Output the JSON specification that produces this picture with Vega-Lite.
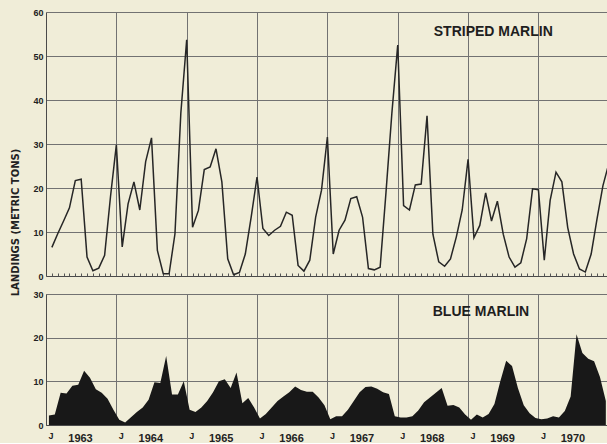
{
  "$schema": "https://vega.github.io/schema/vega-lite/v6.json",
  "background": "#f0edd8",
  "padding": {"left": 10, "top": 8, "right": 0, "bottom": 0},
  "bounds": "flush",
  "spacing": 18,
  "config": {
    "view": {"stroke": null},
    "font": "Liberation Sans",
    "axis": {
      "domainColor": "#4a4a4a",
      "gridColor": "#727272",
      "gridWidth": 1,
      "labelColor": "#222222",
      "labelFont": "Liberation Sans",
      "labelFontWeight": "bold",
      "titleColor": "#222222"
    }
  },
  "datasets": {
    "striped": [
      {"month": 1, "tons": 6.5}, {"month": 2, "tons": 9.6}, {"month": 3, "tons": 12.5}, {"month": 4, "tons": 15.5},
      {"month": 5, "tons": 21.7}, {"month": 6, "tons": 22}, {"month": 7, "tons": 4.3}, {"month": 8, "tons": 1.2},
      {"month": 9, "tons": 1.8}, {"month": 10, "tons": 4.7}, {"month": 11, "tons": 18}, {"month": 12, "tons": 29.8},
      {"month": 13, "tons": 6.6}, {"month": 14, "tons": 16.4}, {"month": 15, "tons": 21.4}, {"month": 16, "tons": 15},
      {"month": 17, "tons": 26}, {"month": 18, "tons": 31.4}, {"month": 19, "tons": 5.8}, {"month": 20, "tons": 0.5},
      {"month": 21, "tons": 0.5}, {"month": 22, "tons": 9.6}, {"month": 23, "tons": 37}, {"month": 24, "tons": 53.7},
      {"month": 25, "tons": 11.1}, {"month": 26, "tons": 14.9}, {"month": 27, "tons": 24.2}, {"month": 28, "tons": 24.8},
      {"month": 29, "tons": 28.9}, {"month": 30, "tons": 21.4}, {"month": 31, "tons": 3.9}, {"month": 32, "tons": 0.3},
      {"month": 33, "tons": 0.8}, {"month": 34, "tons": 5}, {"month": 35, "tons": 13.4}, {"month": 36, "tons": 22.5},
      {"month": 37, "tons": 10.8}, {"month": 38, "tons": 9.2}, {"month": 39, "tons": 10.4}, {"month": 40, "tons": 11.3},
      {"month": 41, "tons": 14.5}, {"month": 42, "tons": 13.8}, {"month": 43, "tons": 2.4}, {"month": 44, "tons": 1.1},
      {"month": 45, "tons": 3.6}, {"month": 46, "tons": 13.4}, {"month": 47, "tons": 19.5}, {"month": 48, "tons": 31.6},
      {"month": 49, "tons": 5}, {"month": 50, "tons": 10.4}, {"month": 51, "tons": 12.7}, {"month": 52, "tons": 17.6},
      {"month": 53, "tons": 18}, {"month": 54, "tons": 13.4}, {"month": 55, "tons": 1.7}, {"month": 56, "tons": 1.4},
      {"month": 57, "tons": 2}, {"month": 58, "tons": 19}, {"month": 59, "tons": 37}, {"month": 60, "tons": 52.5},
      {"month": 61, "tons": 16}, {"month": 62, "tons": 15}, {"month": 63, "tons": 20.7}, {"month": 64, "tons": 20.9},
      {"month": 65, "tons": 36.4}, {"month": 66, "tons": 9.5}, {"month": 67, "tons": 3.2}, {"month": 68, "tons": 2.2},
      {"month": 69, "tons": 3.9}, {"month": 70, "tons": 8.9}, {"month": 71, "tons": 15}, {"month": 72, "tons": 26.5},
      {"month": 73, "tons": 8.7}, {"month": 74, "tons": 11.5}, {"month": 75, "tons": 18.9}, {"month": 76, "tons": 12.5},
      {"month": 77, "tons": 17}, {"month": 78, "tons": 9.5}, {"month": 79, "tons": 4.3}, {"month": 80, "tons": 2},
      {"month": 81, "tons": 3}, {"month": 82, "tons": 8.5}, {"month": 83, "tons": 19.8}, {"month": 84, "tons": 19.6},
      {"month": 85, "tons": 3.6}, {"month": 86, "tons": 17.2}, {"month": 87, "tons": 23.6}, {"month": 88, "tons": 21.4},
      {"month": 89, "tons": 11}, {"month": 90, "tons": 5}, {"month": 91, "tons": 1.6}, {"month": 92, "tons": 0.9},
      {"month": 93, "tons": 5}, {"month": 94, "tons": 13}, {"month": 95, "tons": 20.5}, {"month": 96, "tons": 25.5}
    ],
    "blue": [
      {"month": 0.5, "tons": 2.2}, {"month": 1.5, "tons": 2.4}, {"month": 2.5, "tons": 7.4}, {"month": 3.5, "tons": 7.2},
      {"month": 4.5, "tons": 9}, {"month": 5.5, "tons": 9.2}, {"month": 6.5, "tons": 12.4}, {"month": 7.5, "tons": 10.8},
      {"month": 8.5, "tons": 8.2}, {"month": 9.5, "tons": 7.4}, {"month": 10.5, "tons": 6}, {"month": 11.5, "tons": 3.5},
      {"month": 12.5, "tons": 1.2}, {"month": 13.5, "tons": 0.6}, {"month": 14.5, "tons": 1.8}, {"month": 15.5, "tons": 3},
      {"month": 16.5, "tons": 4}, {"month": 17.5, "tons": 5.8}, {"month": 18.5, "tons": 9.8}, {"month": 19.5, "tons": 9.6},
      {"month": 20.5, "tons": 15.8}, {"month": 21.5, "tons": 7}, {"month": 22.5, "tons": 7}, {"month": 23.5, "tons": 10},
      {"month": 24.5, "tons": 3.5}, {"month": 25.5, "tons": 3}, {"month": 26.5, "tons": 4}, {"month": 27.5, "tons": 5.5},
      {"month": 28.5, "tons": 7.5}, {"month": 29.5, "tons": 10}, {"month": 30.5, "tons": 10.5}, {"month": 31.5, "tons": 8.5},
      {"month": 32.5, "tons": 12}, {"month": 33.5, "tons": 5}, {"month": 34.5, "tons": 6.2}, {"month": 35.5, "tons": 4},
      {"month": 36.5, "tons": 1.5}, {"month": 37.5, "tons": 2.5}, {"month": 38.5, "tons": 4}, {"month": 39.5, "tons": 5.5},
      {"month": 40.5, "tons": 6.5}, {"month": 41.5, "tons": 7.5}, {"month": 42.5, "tons": 8.8}, {"month": 43.5, "tons": 8},
      {"month": 44.5, "tons": 7.6}, {"month": 45.5, "tons": 7.6}, {"month": 46.5, "tons": 6.3}, {"month": 47.5, "tons": 4.5},
      {"month": 48.5, "tons": 1.3}, {"month": 49.5, "tons": 2}, {"month": 50.5, "tons": 2}, {"month": 51.5, "tons": 3.5},
      {"month": 52.5, "tons": 5.5}, {"month": 53.5, "tons": 7.5}, {"month": 54.5, "tons": 8.7}, {"month": 55.5, "tons": 8.8},
      {"month": 56.5, "tons": 8.3}, {"month": 57.5, "tons": 7.5}, {"month": 58.5, "tons": 7.1}, {"month": 59.5, "tons": 2},
      {"month": 60.5, "tons": 1.7}, {"month": 61.5, "tons": 1.7}, {"month": 62.5, "tons": 2}, {"month": 63.5, "tons": 3.3},
      {"month": 64.5, "tons": 5.2}, {"month": 65.5, "tons": 6.3}, {"month": 66.5, "tons": 7.4}, {"month": 67.5, "tons": 8.5},
      {"month": 68.5, "tons": 4.4}, {"month": 69.5, "tons": 4.6}, {"month": 70.5, "tons": 4}, {"month": 71.5, "tons": 2.4},
      {"month": 72.5, "tons": 1.2}, {"month": 73.5, "tons": 2.4}, {"month": 74.5, "tons": 1.7}, {"month": 75.5, "tons": 2.5},
      {"month": 76.5, "tons": 4.8}, {"month": 77.5, "tons": 10}, {"month": 78.5, "tons": 14.7}, {"month": 79.5, "tons": 13.5},
      {"month": 80.5, "tons": 8.5}, {"month": 81.5, "tons": 4.5}, {"month": 82.5, "tons": 2.7}, {"month": 83.5, "tons": 1.6},
      {"month": 84.5, "tons": 1.3}, {"month": 85.5, "tons": 1.5}, {"month": 86.5, "tons": 2}, {"month": 87.5, "tons": 1.7},
      {"month": 88.5, "tons": 3.2}, {"month": 89.5, "tons": 6.5}, {"month": 90.5, "tons": 20.8}, {"month": 91.5, "tons": 16.5},
      {"month": 92.5, "tons": 15.2}, {"month": 93.5, "tons": 14.6}, {"month": 94.5, "tons": 11}, {"month": 95.5, "tons": 5.5}
    ]
  },
  "vconcat": [
    {
      "width": 561,
      "height": 264,
      "data": {"name": "striped"},
      "resolve": {"axis": {"x": "independent"}},
      "layer": [
        {
          "mark": {"type": "line", "color": "#262626", "strokeWidth": 1.5, "clip": true},
          "encoding": {
            "x": {
              "field": "month",
              "type": "quantitative",
              "scale": {"domain": [0, 95.7], "nice": false, "zero": false},
              "axis": {
                "orient": "bottom",
                "values": [12, 24, 36, 48, 60, 72, 84],
                "labels": false,
                "title": null,
                "ticks": false,
                "domain": true,
                "grid": true
              }
            },
            "y": {
              "field": "tons",
              "type": "quantitative",
              "scale": {"domain": [0, 60], "nice": false},
              "axis": {
                "values": [0, 10, 20, 30, 40, 50, 60],
                "title": "LANDINGS (METRIC TONS)",
                "titleX": -31,
                "titleY": 210,
                "titleAngle": -90,
                "titleAlign": "center",
                "titleBaseline": "middle",
                "titleFont": "DejaVu Sans",
                "titleFontSize": 10,
                "titleFontWeight": "bold",
                "ticks": false,
                "labelPadding": 3,
                "labelFontSize": 9,
                "grid": true
              }
            }
          }
        },
        {
          "data": {"values": [{}]},
          "mark": {"type": "text", "text": "STRIPED MARLIN", "font": "Liberation Sans", "fontWeight": "bold", "fontSize": 14, "color": "#1e1e1e"},
          "encoding": {
            "x": {
              "datum": 76.3,
              "type": "quantitative",
              "axis": {
                "orient": "bottom",
                "values": [1,2,3,4,5,6,7,8,9,10,11,13,14,15,16,17,18,19,20,21,22,23,25,26,27,28,29,30,31,32,33,34,35,37,38,39,40,41,42,43,44,45,46,47,49,50,51,52,53,54,55,56,57,58,59,61,62,63,64,65,66,67,68,69,70,71,73,74,75,76,77,78,79,80,81,82,83,85,86,87,88,89,90,91,92,93,94,95],
                "labels": false,
                "title": null,
                "domain": false,
                "grid": false,
                "ticks": true,
                "tickSize": -3,
                "tickColor": "#555555"
              }
            },
            "y": {"datum": 55.5, "type": "quantitative"}
          }
        }
      ]
    },
    {
      "width": 561,
      "height": 131,
      "data": {"name": "blue"},
      "resolve": {"axis": {"x": "independent"}},
      "layer": [
        {
          "mark": {"type": "area", "color": "#181818", "clip": true, "opacity": 1},
          "encoding": {
            "x": {
              "field": "month",
              "type": "quantitative",
              "scale": {"domain": [0, 95.7], "nice": false, "zero": false},
              "axis": {
                "orient": "bottom",
                "values": [0, 12, 24, 36, 48, 60, 72, 84],
                "labelExpr": "'J'",
                "labelFontSize": 9,
                "labelAlign": "left",
                "labelOffset": 2,
                "labelBaseline": "top",
                "labelPadding": 6,
                "labelOverlap": false,
                "labelFlush": false,
                "labelBound": false,
                "ticks": false,
                "title": null,
                "grid": true
              }
            },
            "y": {
              "field": "tons",
              "type": "quantitative",
              "scale": {"domain": [0, 30], "nice": false},
              "axis": {
                "values": [0, 10, 20, 30],
                "title": null,
                "ticks": false,
                "labelPadding": 3,
                "labelFontSize": 9,
                "grid": true
              }
            }
          }
        },
        {
          "data": {"values": [{}]},
          "mark": {"type": "text", "text": "BLUE MARLIN", "font": "Liberation Sans", "fontWeight": "bold", "fontSize": 14, "color": "#1e1e1e"},
          "encoding": {
            "x": {
              "datum": 74.2,
              "type": "quantitative",
              "axis": {
                "orient": "bottom",
                "values": [5.8, 17.8, 29.8, 41.8, 53.8, 65.8, 77.8, 89.8],
                "labelExpr": "toString(1963 + floor(datum.value / 12))",
                "labelFontSize": 11,
                "labelBaseline": "top",
                "labelPadding": 7,
                "labelOverlap": false,
                "labelFlush": false,
                "labelBound": false,
                "ticks": false,
                "domain": false,
                "grid": false,
                "title": null
              }
            },
            "y": {"datum": 25.9, "type": "quantitative"}
          }
        }
      ]
    }
  ]
}
